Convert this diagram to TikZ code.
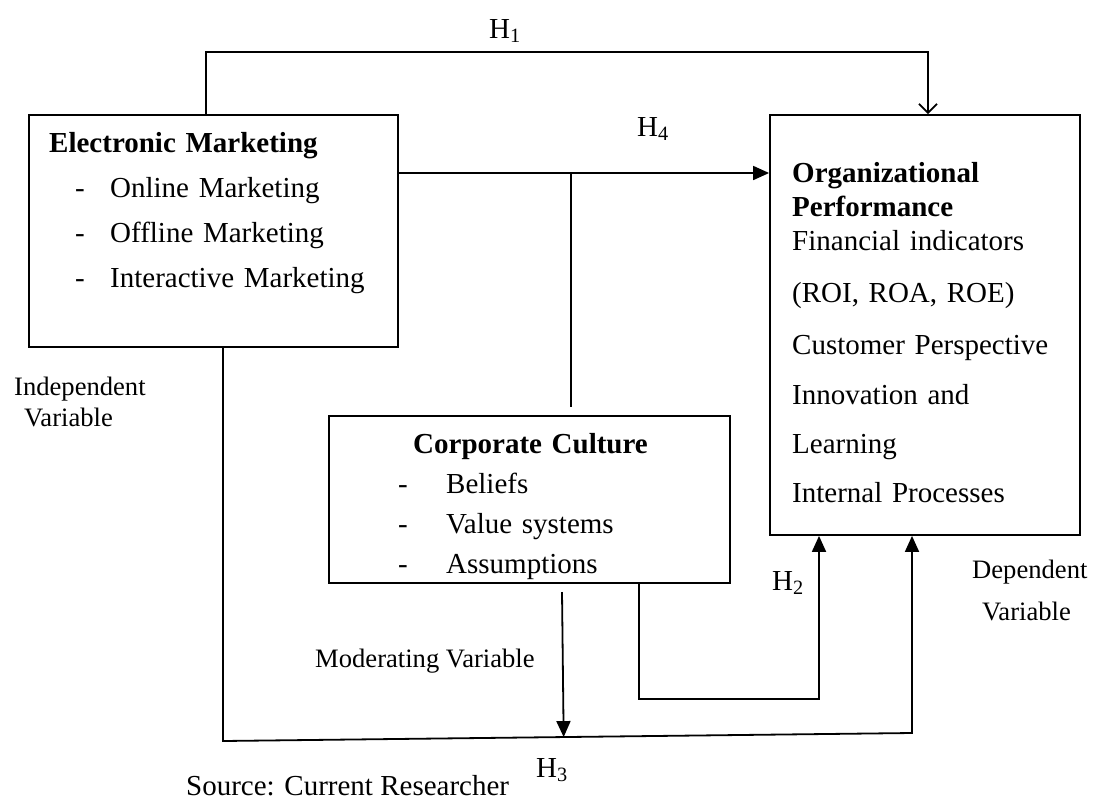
\documentclass[tikz,border=0pt]{standalone}
\usepackage{fontspec}
\setmainfont{Liberation Serif}
\usepackage{tikz}
\usetikzlibrary{arrows.meta,positioning,fit,calc}

\newcommand{\dashentry}[3]{\hspace*{#1}\makebox[#2][l]{-}#3}

\tikzset{
  box/.style={draw,line width=1.8pt,inner sep=0pt},
  conn/.style={line width=1.8pt},
  boxtext/.style={anchor=base west,inner sep=0pt,align=left},
  lbl/.style={anchor=base west,inner sep=0pt,font=\fontsize{26.6}{31}\selectfont},
  hyp/.style={anchor=base west,inner sep=0pt,font=\fontsize{29}{34}\selectfont}
}

\begin{document}
\begin{tikzpicture}[x=1pt,y=-1pt,>={Triangle[length=16pt,width=14pt]}]
  \useasboundingbox (0,0) rectangle (1099,803);

  % boxes
  \node[box,fit={(29,115) (398,347)}] (em) {};
  \node[box,fit={(770,115) (1080,535)}] (op) {};
  \node[box,fit={(329,416) (730,583)}] (cc) {};

  \node[boxtext,text width=330pt,font=\fontsize{29}{45}\selectfont] (emtxt) at (49,152) {
    \textbf{Electronic Marketing}\\
    \dashentry{26pt}{35pt}{Online Marketing}\\
    \dashentry{26pt}{35pt}{Offline Marketing}\\
    \dashentry{26pt}{35pt}{Interactive Marketing}};
  \node[boxtext,text width=320pt,font=\fontsize{29}{40}\selectfont] (cctxt) at (398,453) {
    \hspace*{15pt}\textbf{Corporate Culture}\\
    \dashentry{0pt}{48pt}{Beliefs}\\
    \dashentry{0pt}{48pt}{Value systems}\\
    \dashentry{0pt}{48pt}{Assumptions}};
  \node[boxtext,text width=290pt,font=\fontsize{29}{34}\selectfont] (optxt) at (792,182) {
    \textbf{Organizational}\\
    \textbf{Performance}\\
    Financial indicators\\[18pt]
    (ROI, ROA, ROE)\\[18pt]
    Customer Perspective\\[16pt]
    Innovation and\\[15pt]
    Learning\\[15pt]
    Internal Processes};

  % labels
  \node[hyp] (h1) at (489,38) {H\textsubscript{1}};
  \node[hyp] (h4) at (637,136) {H\textsubscript{4}};
  \node[hyp] (h2) at (772,590) {H\textsubscript{2}};
  \node[hyp] (h3) at (536,777) {H\textsubscript{3}};
  \node[lbl,text width=150pt,align=left] (indep) at (14,395) {Independent\\\hspace*{10pt}Variable};
  \node[lbl,text width=150pt,align=left,font=\fontsize{26.6}{42}\selectfont] (dep) at (972,578) {Dependent\\\hspace*{10pt}Variable};
  \node[lbl] (mod) at (315,667) {Moderating Variable};
  \node[hyp] (src) at (186,795) {Source: Current Researcher};

  % connectors
  \coordinate (h1l) at (206,52);
  \coordinate (h1r) at (928,52);
  \draw[conn,-{Straight Barb[length=9pt,width=18pt]}] (h1l |- em.north) -- (h1l) -- (h1r) -- (h1r |- op.north);

  \coordinate (h4) at (571,173);
  \draw[conn,->] (h4 -| em.east) -- (h4 -| op.west);
  \draw[conn] (h4) -- ([yshift=8pt]h4 |- cc.north);

  \coordinate (mtop) at (562,592);
  \coordinate (bl) at (223,741);
  \coordinate (br) at (912,733);
  \draw[conn,->] (mtop) -- ($(bl)!(mtop)!(br)$);
  \draw[conn,->] (em.south -| bl) -- (bl) -- (br) -- (br |- op.south);

  \coordinate (h2a) at (639,699);
  \coordinate (h2b) at (819,699);
  \draw[conn,->] (cc.south -| h2a) -- (h2a) -- (h2b) -- (h2b |- op.south);
\end{tikzpicture}
\end{document}
